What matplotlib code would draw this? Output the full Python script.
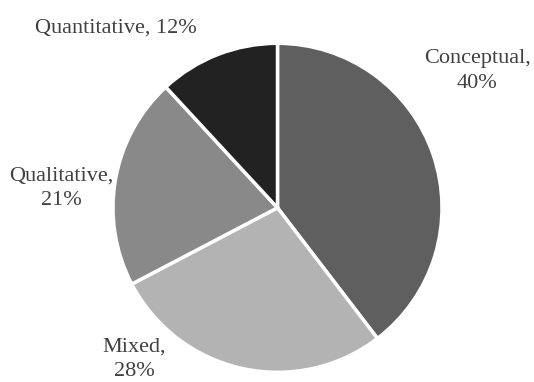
import matplotlib.pyplot as plt

# Share of studies by research approach
labels = ['Conceptual', 'Mixed', 'Qualitative', 'Quantitative']
shares = [40, 28, 21, 12]
colors = ['#5f5f5f', '#b3b3b3', '#898989', '#222222']

# label anchors: x centre and last-line baseline (data units, radius = 1)
label_pos = {'Conceptual': (1.213, 0.73, True),
             'Mixed': (-0.872, -1.022, True),
             'Qualitative': (-1.316, 0.017, True),
             'Quantitative': (-0.982, 1.063, False)}

fig = plt.figure(figsize=(5.34, 3.82), dpi=100)
ax = fig.add_axes([113/534, 9.7/382, 329/534, 329/382])

wedges, _ = ax.pie(shares, colors=colors, startangle=90, counterclock=False,
                   radius=1, wedgeprops=dict(edgecolor='white', linewidth=2.5))

for name, val in zip(labels, shares):
    x, y, two_lines = label_pos[name]
    sep = '\n' if two_lines else ' '
    ax.text(x, y, f'{name},{sep}{val}%', ha='center', va='baseline',
            fontsize=16, family='Liberation Serif', color='#404040',
            linespacing=1.4, clip_on=False)

ax.set_xlim(-1, 1)
ax.set_ylim(-1, 1)
ax.set_aspect('equal')
ax.axis('off')

fig.savefig('out.png', dpi=100)
